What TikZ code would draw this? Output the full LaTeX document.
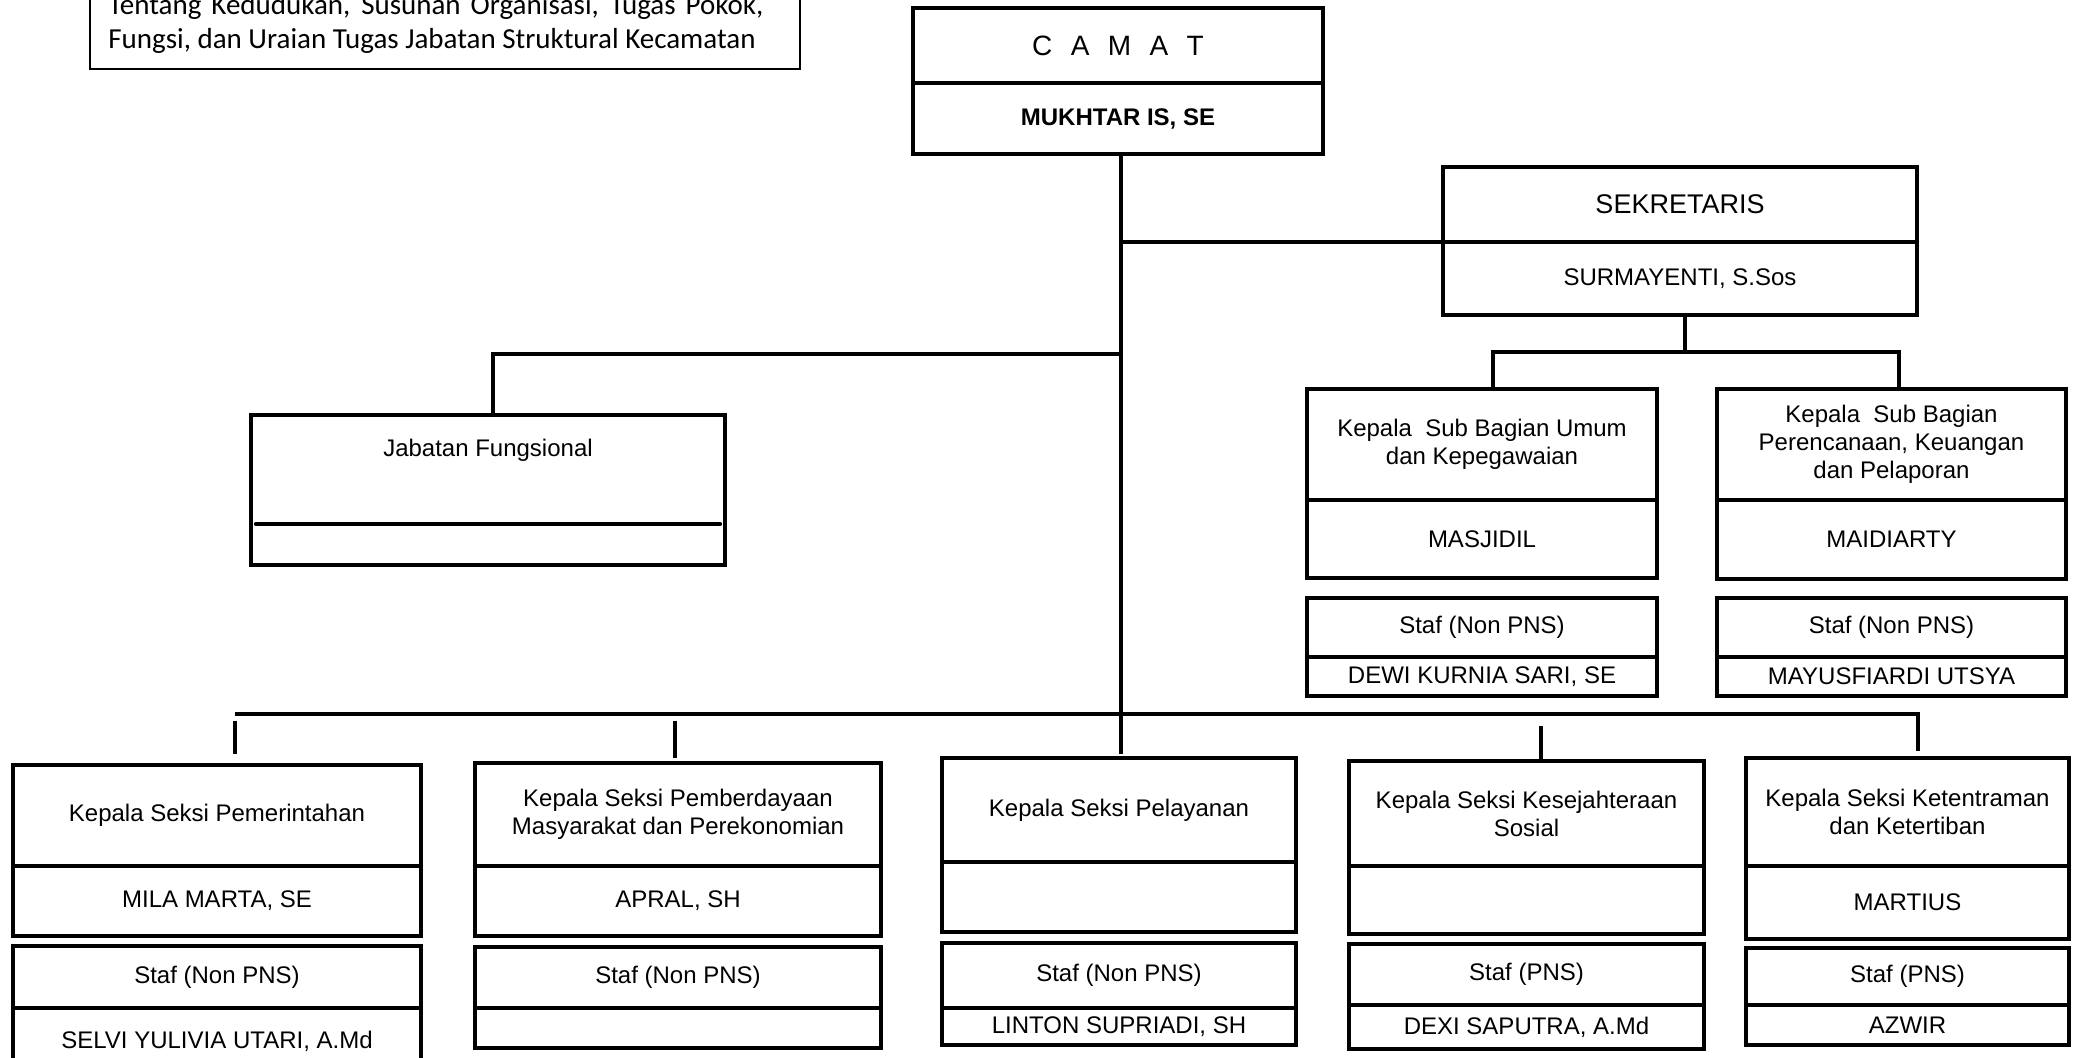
\documentclass[tikz,border=0pt]{standalone}
\usepackage{fontspec}
\setmainfont{Liberation Sans}
\newfontfamily\notefont{Carlito}
\newcommand\cellbox[7][cell]{%
  \pgfmathsetmacro\cbw{(#5-#3)*0.5}%
  \pgfmathsetmacro\cbh{(#6-#4)*0.5}%
  \node[#1, minimum width=\cbw pt, minimum height=\cbh pt] (#2) at ({(#3+#5)/2},{(#4+#6)/2}) {#7};}
\begin{document}
\begin{tikzpicture}[x=0.5pt,y=-0.5pt,
  cell/.style={draw, line width=2.2pt, rectangle, inner sep=0pt, outer sep=0pt, align=center, font=\fontsize{12}{14}\selectfont},
  notebox/.style={draw, line width=0.8pt, rectangle, inner sep=0pt, outer sep=0pt},
  notetext/.style={anchor=base west, inner sep=0pt, font=\notefont\fontsize{14.5}{17}\selectfont},
  conn/.style={line width=1.6pt},
  bus/.style={line width=2pt}]
\useasboundingbox (0,0) rectangle (2074,1058);
\clip (0,0) rectangle (2074,1058);

% note box
\cellbox[notebox]{note}{90}{-40}{800}{69}{}
\node[notetext] (n1) at (108,15) {\makebox[327.5pt][s]{Tentang Kedudukan, Susunan Organisasi, Tugas Pokok,}};
\node[notetext] (n2) at (108,49) {Fungsi, dan Uraian Tugas Jabatan Struktural Kecamatan};

% camat
\cellbox{camA}{913}{8}{1323}{83}{\fontsize{14}{16}\selectfont C\hspace{9.2pt}A\hspace{9.2pt}M\hspace{9.2pt}A\hspace{9.2pt}T}
\cellbox{camB}{913}{83}{1323}{154}{\bfseries MUKHTAR IS, SE}

% sekretaris
\cellbox{sekA}{1443}{167}{1917}{242}{\fontsize{13.5}{16}\selectfont SEKRETARIS}
\cellbox{sekB}{1443}{242}{1917}{315}{SURMAYENTI, S.Sos}

% jabatan fungsional
\cellbox{jab}{251}{415}{725}{565}{}
\node[font=\fontsize{12}{14}\selectfont, inner sep=0pt] (jabT) at (jab.center |- 0,450) {Jabatan Fungsional};
\draw[line width=2.2pt, line cap=round] (256,524) -- (720,524);

% sub bagian
\cellbox{umA}{1307}{389}{1657}{500}{Kepala\ \ Sub Bagian Umum\\dan Kepegawaian}
\cellbox{umB}{1307}{500}{1657}{578}{MASJIDIL}
\cellbox{pkA}{1717}{389}{2066}{500}{Kepala\ \ Sub Bagian\\Perencanaan, Keuangan\\dan Pelaporan}
\cellbox{pkB}{1717}{500}{2066}{579}{MAIDIARTY}
\cellbox{umS1}{1307}{598}{1657}{657}{Staf (Non PNS)}
\cellbox{umS2}{1307}{657}{1657}{696}{DEWI KURNIA SARI, SE}
\cellbox{pkS1}{1717}{598}{2066}{657}{Staf (Non PNS)}
\cellbox{pkS2}{1717}{657}{2066}{696}{MAYUSFIARDI UTSYA}

% seksi
\cellbox{b1A}{13}{765}{421}{866}{Kepala Seksi Pemerintahan}
\cellbox{b1B}{13}{866}{421}{936}{MILA MARTA, SE}
\cellbox{b1S1}{13}{946}{421}{1008}{Staf (Non PNS)}
\cellbox{b1S2}{13}{1008}{421}{1075}{SELVI YULIVIA UTARI, A.Md}

\cellbox{b2A}{475}{763}{881}{866}{Kepala Seksi Pemberdayaan\\Masyarakat dan Perekonomian}
\cellbox{b2B}{475}{866}{881}{936}{APRAL, SH}
\cellbox{b2S1}{475}{947}{881}{1008}{Staf (Non PNS)}
\cellbox{b2S2}{475}{1008}{881}{1048}{}

\cellbox{b3A}{942}{758}{1296}{862}{Kepala Seksi Pelayanan}
\cellbox{b3B}{942}{862}{1296}{932}{}
\cellbox{b3S1}{942}{943}{1296}{1008}{Staf (Non PNS)}
\cellbox{b3S2}{942}{1008}{1296}{1045}{LINTON SUPRIADI, SH}

\cellbox{b4A}{1349}{761}{1704}{866}{Kepala Seksi Kesejahteraan\\Sosial}
\cellbox{b4B}{1349}{866}{1704}{934}{}
\cellbox{b4S1}{1349}{944}{1704}{1005}{Staf (PNS)}
\cellbox{b4S2}{1349}{1005}{1704}{1049}{DEXI SAPUTRA, A.Md}

\cellbox{b5A}{1746}{758}{2069}{866}{Kepala Seksi Ketentraman\\dan Ketertiban}
\cellbox{b5B}{1746}{866}{2069}{939}{MARTIUS}
\cellbox{b5S1}{1746}{948}{2069}{1005}{Staf (PNS)}
\cellbox{b5S2}{1746}{1005}{2069}{1045}{AZWIR}

% connectors
\draw[conn, shorten >=2pt] (1121,0 |- camB.south) -- (1121,0 |- b3A.north);
\draw[conn] (sekA.south west) -- (1121,0 |- sekA.south west);
\coordinate (jbus) at (1121,354);
\draw[conn] (jbus) -- (493,354) -- (493,0 |- jab.north);
\coordinate (sbus) at (1685,352);
\draw[conn] (1685,0 |- sekB.south) -- (sbus);
\draw[conn] (1493,0 |- umA.north) -- (1493,352) -- (1899,352) -- (1899,0 |- pkA.north);

\coordinate (busL) at (235,714);
\coordinate (busR) at (1918,714);
\coordinate (t4) at (1541,714);
\draw[bus, shorten >=3.5pt] (busL) -- (busR) -- (busR |- b5A.north);
\draw[conn, shorten <=3.5pt, shorten >=5.5pt] (busL) -- (busL |- b1A.north);
\draw[conn, shorten <=3.5pt, shorten >=2.5pt] (675,714) -- (675,0 |- b2A.north);
\draw[conn, shorten <=6pt] (t4) -- (t4 |- b4A.north);
\end{tikzpicture}
\end{document}
